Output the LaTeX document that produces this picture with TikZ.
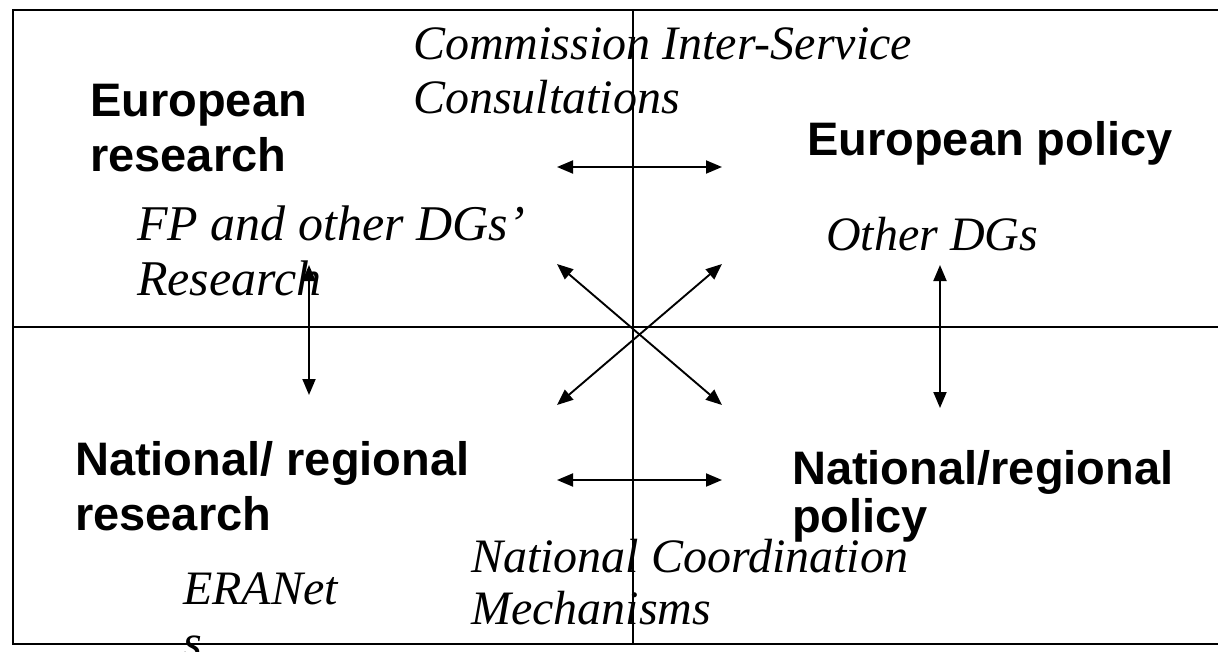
\documentclass[tikz,border=0pt]{standalone}
\usepackage{fontspec}
\setmainfont{Liberation Serif}
\newfontfamily\arialfont{Liberation Sans}
\usetikzlibrary{arrows.meta}
\tikzset{
  frame/.style={line width=2pt},
  head/.style={anchor=base west, inner sep=0pt, font=\arialfont\bfseries\fontsize{47}{55}\selectfont},
  ital/.style={anchor=base west, inner sep=0pt, font=\itshape\fontsize{48}{54}\selectfont},
  bigital/.style={ital, font=\itshape\fontsize{50}{56}\selectfont},
  link/.style={line width=1.9pt, {Triangle[length=16pt,width=13pt]}-{Triangle[length=16pt,width=13pt]}},
}
\begin{document}
\begin{tikzpicture}[x=1pt,y=-1pt]
\useasboundingbox (0,0) rectangle (1218,651);
% frame and quadrant lines
\draw[frame] (12.5,9.5) rectangle (1240,644);
\draw[frame] (632.5,9.5) -- (632.5,644);
\draw[frame] (12.5,327) -- (1240,327);
% headings
\node[head] (eur1) at (90,116) {European};
\node[head] (eur2) at (90,171) {research};
\node[head] (eup) at (807,155) {European policy};
\node[head] (nat1) at (75,475) {National/ regional};
\node[head] (nat2) at (75,530) {research};
\node[head] (nap1) at (792,484) {National/regional};
\node[head] (nap2) at (792,532) {policy};
% italic labels
\node[ital] (cis1) at (413,59) {Commission Inter-Service};
\node[ital] (cis2) at (413,113) {Consultations};
\node[bigital] (fp1) at (137,240) {FP and other DGs’};
\node[bigital] (fp2) at (137,295) {Research};
\node[ital] (odg) at (826,250) {Other DGs};
\node[ital] (ncm1) at (471,572) {National Coordination};
\node[ital] (ncm2) at (471,624) {Mechanisms};
\node[ital] (era1) at (183,604) {ERANet};
\node[ital] (era2) at (183,658) {s};
% arrow ends
\coordinate (tl) at (557,167);
\coordinate (tr) at (722,167);
\coordinate (bl) at (557,480);
\coordinate (br) at (722,480);
\coordinate (dul) at (557,264);
\coordinate (dur) at (722,264);
\coordinate (dll) at (557,405);
\coordinate (dlr) at (722,405);
\coordinate (vlt) at (309,265);
\coordinate (vlb) at (309,395);
\coordinate (vrt) at (940,265);
\coordinate (vrb) at (940,408);
% arrows
\draw[link] (tl) -- (tr);
\draw[link] (bl) -- (br);
\draw[link] (dul) -- (dlr);
\draw[link] (dur) -- (dll);
\draw[link] (vlt) -- (vlb);
\draw[link] (vrt) -- (vrb);
\end{tikzpicture}
\end{document}
